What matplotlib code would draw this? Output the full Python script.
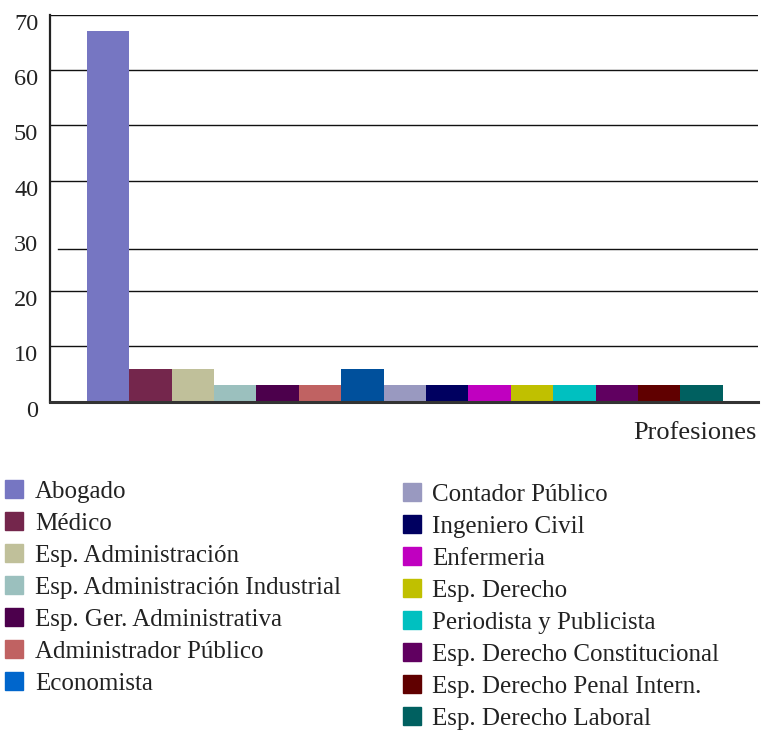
import matplotlib.pyplot as plt
import matplotlib.transforms as mtransforms
from matplotlib.patches import Rectangle

# datos
profesiones = [
    "Abogado", "Médico", "Esp. Administración", "Esp. Administración Industrial",
    "Esp. Ger. Administrativa", "Administrador Público", "Economista",
    "Contador Público", "Ingeniero Civil", "Enfermeria", "Esp. Derecho",
    "Periodista y Publicista", "Esp. Derecho Constitucional",
    "Esp. Derecho Penal Intern.", "Esp. Derecho Laboral",
]
valores = [67, 6, 6, 3, 3, 3, 6, 3, 3, 3, 3, 3, 3, 3, 3]
colores = [
    "#7676C2", "#74264C", "#C0C09A", "#9BC0BE", "#4C004C", "#C06262",
    "#00509C", "#9999C0", "#000060", "#C000C0", "#C0C000", "#00C0C0",
    "#600060", "#600000", "#006060",
]
colores_leyenda = list(colores)
colores_leyenda[6] = "#0066CC"
yticks = [0, 10, 20, 30, 40, 50, 60, 70]

plt.rcParams["font.family"] = ["Liberation Serif", "DejaVu Serif"]
W, H = 761, 730
fig = plt.figure(figsize=(W / 100, H / 100), dpi=100)
ax = fig.add_axes([50 / W, 1 - 401.7 / H, 708 / W, (401.7 - 14.7) / H])

x = list(range(len(valores)))
ax.bar(x, valores, width=1.0, color=colores, zorder=3)
ax.set_xlim(-1.37, 15.33)
ax.set_ylim(0, 70)

# lineas de guia (la de 30 esta desplazada en el original)
for v in [10, 20, 40, 50, 60, 70]:
    ax.axhline(v, color="#111111", lw=1.0, zorder=1)
ax.axhline(27.7, xmin=8 / 708, xmax=1, color="#111111", lw=1.0, zorder=1)

for s in ["top", "right"]:
    ax.spines[s].set_visible(False)
ax.spines["left"].set_linewidth(1.6)
ax.spines["left"].set_color("#222222")
ax.spines["bottom"].set_linewidth(2.2)
ax.spines["bottom"].set_color("#333333")
ax.spines["bottom"].set_zorder(4)

ax.set_xticks([])
ax.set_yticks(yticks)
ax.tick_params(axis="y", length=0, pad=8.5, labelsize=17.5, labelcolor="#222222")
offset = mtransforms.ScaledTranslation(0, -5 / 72, fig.dpi_scale_trans)
for lab in ax.get_yticklabels():
    lab.set_transform(lab.get_transform() + offset)

fig.text(757 / W, 1 - 433 / H, "Profesiones", ha="right", va="center",
         fontsize=19, color="#222222")

# leyenda en dos columnas (7 + 8)
cols = [(5, 35, 489, profesiones[:7], colores_leyenda[:7]),
        (403, 432, 492, profesiones[7:], colores_leyenda[7:])]
for xs, xt, y0, nombres, cs in cols:
    for i, (n, c) in enumerate(zip(nombres, cs)):
        yc = y0 + i * 32
        fig.patches.append(Rectangle((xs / W, 1 - (yc + 9) / H), 18 / W, 18 / H,
                                     transform=fig.transFigure, color=c))
        fig.text(xt / W, 1 - (yc + 3) / H, n, ha="left", va="center",
                 fontsize=18, color="#222222")

fig.savefig("out.png", dpi=100)
